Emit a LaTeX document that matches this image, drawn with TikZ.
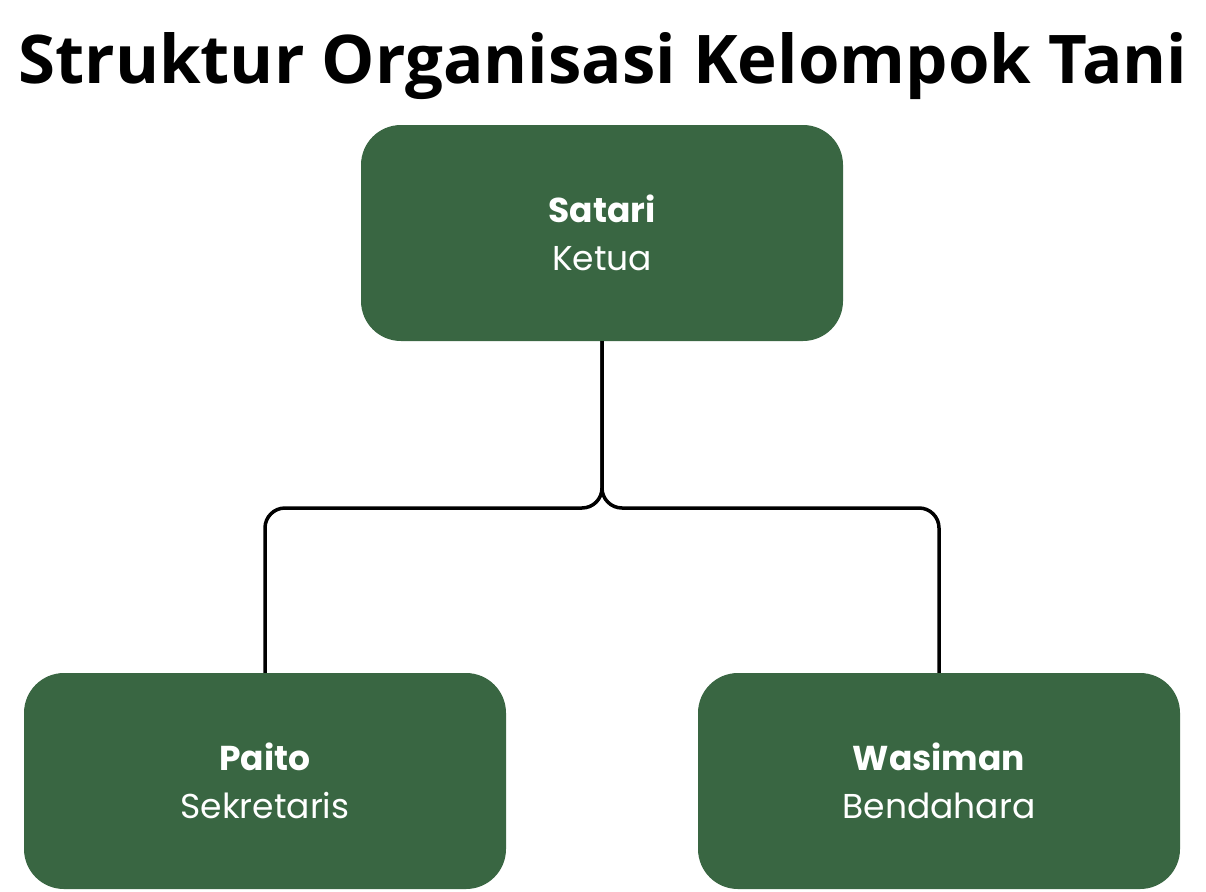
\documentclass[tikz,border=0pt]{standalone}
\usepackage{fontspec}
\setmainfont{Poppins}
\newfontfamily\titlefont{Open Sans}
\definecolor{boxgreen}{RGB}{57,102,66}
\begin{document}
\begin{tikzpicture}[x=1pt,y=-1pt,
  orgbox/.style={fill=boxgreen, rounded corners=40pt, minimum width=482pt, minimum height=216pt,
    text=white, align=center, inner sep=0pt, font=\fontsize{34.5}{48}\selectfont},
  link/.style={line width=3.5pt, rounded corners=20pt}]
\useasboundingbox[fill=white] (0,0) rectangle (1206,891);
\node[anchor=base, inner sep=0pt] (title) at (603,83) {\resizebox{1169pt}{!}{\titlefont\bfseries\fontsize{68}{80}\selectfont Struktur Organisasi Kelompok Tani}};
\node[orgbox] (top) at (602,233) {\textbf{Satari}\\Ketua};
\node[orgbox] (left) at (265,781) {\textbf{Paito}\\Sekretaris};
\node[orgbox] (right) at (939,781) {\textbf{Wasiman}\\Bendahara};
\draw[link] (top.south) -- (602,508) -- (265,508) -- (left.north);
\draw[link] (top.south) -- (602,508) -- (939,508) -- (right.north);
\end{tikzpicture}
\end{document}
